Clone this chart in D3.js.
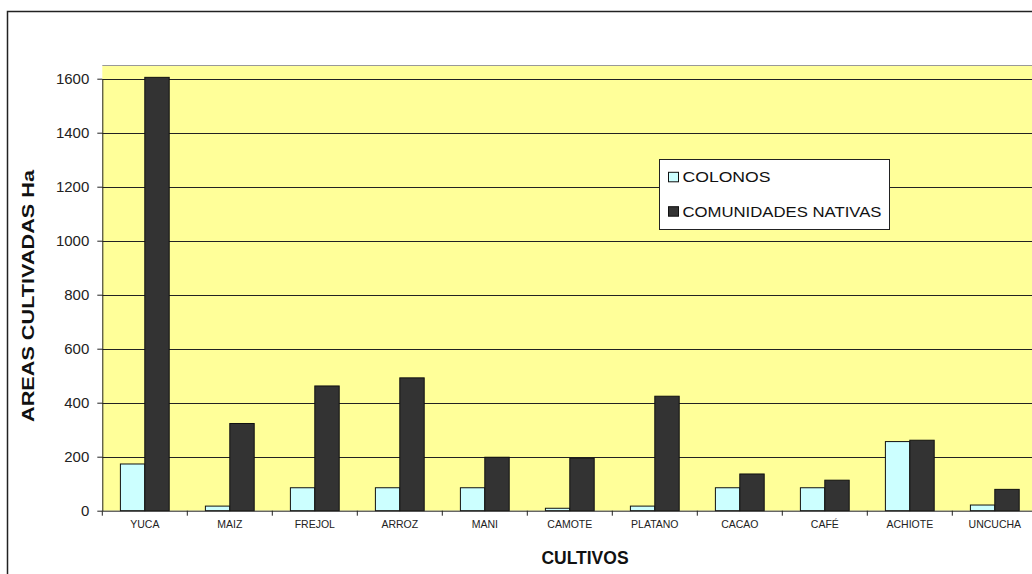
<!DOCTYPE html>
<html>
<head>
<meta charset="utf-8">
<script src="https://cdn.jsdelivr.net/npm/d3@7"></script>
<style>
  body { margin: 0; background: #fff; }
  svg { font-family: Arial, "Liberation Sans", sans-serif; }
</style>
</head>
<body>
<div id="chart"></div>
<script>
var cultivos = ["YUCA", "MAIZ", "FREJOL", "ARROZ", "MANI", "CAMOTE", "PLATANO", "CACAO", "CAFÉ", "ACHIOTE", "UNCUCHA"];
var colonos = [173, 17, 85, 85, 85, 9, 17, 85, 85, 256, 21];
var nativas = [1605, 323, 462, 492, 198, 194, 424, 136, 113, 261, 79];
var series = ["COLONOS", "COMUNIDADES NATIVAS"];
var colores = ["#CCFFFF", "#333333"];
var yTicks = [0, 200, 400, 600, 800, 1000, 1200, 1400, 1600];

var W = 1032, H = 574;
var plotLeft = 102.3, plotTop = 66, plotBottom = 510.7;
var catW = 85;
var plotRight = plotLeft + catW * cultivos.length;

var svg = d3.select("#chart").append("svg")
  .attr("width", W).attr("height", H);

// outer frame
svg.append("rect")
  .attr("x", 7.5).attr("y", 11.5)
  .attr("width", W + 20).attr("height", H + 20)
  .attr("fill", "#fff").attr("stroke", "#222").attr("stroke-width", 1.5);

var x = d3.scaleBand().domain(cultivos).range([plotLeft, plotRight]);
var y = d3.scaleLinear().domain([0, 1600]).range([plotBottom, plotBottom - 8 * 54]);
var xs = d3.scaleBand().domain(series).range([(catW - 48.8) / 2, (catW + 48.8) / 2]);

// plot background
svg.append("rect")
  .attr("x", plotLeft).attr("y", plotTop)
  .attr("width", plotRight - plotLeft).attr("height", plotBottom - plotTop)
  .attr("fill", "#FFFF99");
svg.append("line")
  .attr("x1", plotLeft).attr("x2", plotRight).attr("y1", plotTop - 0.5).attr("y2", plotTop - 0.5)
  .attr("stroke", "#999").attr("stroke-width", 1);

// gridlines
svg.append("g").selectAll("line")
  .data(yTicks.slice(1))
  .enter().append("line")
  .attr("x1", plotLeft).attr("x2", plotRight)
  .attr("y1", function(d) { return Math.round(y(d)) + 0.5; })
  .attr("y2", function(d) { return Math.round(y(d)) + 0.5; })
  .attr("stroke", "#222").attr("stroke-width", 1);

// bars
var data = cultivos.map(function(c, i) {
  return { cat: c, vals: [{ s: series[0], v: colonos[i] }, { s: series[1], v: nativas[i] }] };
});
var groups = svg.append("g").selectAll("g")
  .data(data).enter().append("g")
  .attr("transform", function(d) { return "translate(" + x(d.cat) + ",0)"; });
groups.selectAll("rect")
  .data(function(d) { return d.vals; })
  .enter().append("rect")
  .attr("x", function(d) { return xs(d.s); })
  .attr("width", xs.bandwidth())
  .attr("y", function(d) { return y(d.v); })
  .attr("height", function(d) { return plotBottom - y(d.v); })
  .attr("fill", function(d, i) { return colores[i]; })
  .attr("stroke", "#111").attr("stroke-width", 1);

// y axis
var yAxis = svg.append("g")
  .attr("transform", "translate(" + plotLeft + ",0)")
  .call(d3.axisLeft(y).tickValues(yTicks).tickFormat(d3.format("d")).tickSize(5).tickSizeOuter(0).tickPadding(8));
yAxis.select(".domain").attr("stroke", "#222");
yAxis.selectAll(".tick line").attr("stroke", "#222");
yAxis.selectAll("text").attr("font-size", 15).attr("fill", "#222")
  .attr("font-family", "Arial, 'Liberation Sans', sans-serif");

// x axis
var xAxis = svg.append("g")
  .attr("transform", "translate(0," + plotBottom + ")")
  .call(d3.axisBottom(x).tickSize(0).tickPadding(10));
xAxis.select(".domain").attr("stroke", "#222");
xAxis.selectAll("text").attr("font-size", 10.5).attr("fill", "#222")
  .attr("font-family", "Arial, 'Liberation Sans', sans-serif");
svg.append("g").selectAll("line")
  .data(d3.range(cultivos.length + 1))
  .enter().append("line")
  .attr("x1", function(i) { return plotLeft + i * x.step(); })
  .attr("x2", function(i) { return plotLeft + i * x.step(); })
  .attr("y1", plotBottom).attr("y2", plotBottom + 5)
  .attr("stroke", "#222");

// titles
svg.append("text")
  .attr("x", 585).attr("y", 564)
  .attr("text-anchor", "middle")
  .attr("font-size", 17.5).attr("font-weight", "bold").attr("fill", "#111")
  .text("CULTIVOS");
svg.append("text")
  .attr("transform", "translate(34,296) rotate(-90)")
  .attr("text-anchor", "middle")
  .attr("font-size", 16.5).attr("font-weight", "bold").attr("fill", "#111")
  .attr("textLength", 252).attr("lengthAdjust", "spacingAndGlyphs")
  .text("AREAS CULTIVADAS Ha");

// legend
var lg = svg.append("g").attr("transform", "translate(659.5,159.5)");
lg.append("rect").attr("width", 230).attr("height", 70)
  .attr("fill", "#fff").attr("stroke", "#222");
series.forEach(function(s, i) {
  var yy = 22.8 + i * 34.4;
  lg.append("rect").attr("x", 9).attr("y", yy - 10).attr("width", 10).attr("height", 9.5)
    .attr("fill", colores[i]).attr("stroke", "#111");
  lg.append("text").attr("x", 23).attr("y", yy)
    .attr("font-size", 15.5).attr("fill", "#111")
    .attr("textLength", i === 0 ? 88 : 199).attr("lengthAdjust", "spacingAndGlyphs")
    .text(s);
});
</script>
</body>
</html>
